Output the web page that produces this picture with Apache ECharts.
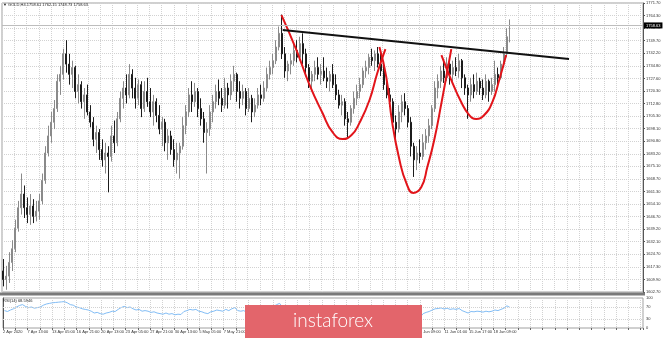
<!DOCTYPE html>
<html>

<head>
    <meta charset="utf-8">
    <script src="https://cdn.jsdelivr.net/npm/echarts@6.0.0/dist/echarts.min.js"></script>
    <style>
        html, body { margin: 0; padding: 0; background: #fff; }
    </style>
</head>

<body>
    <div id="echartsMain" style="width: 665px; height: 338px;"></div>
</body>

</html>

<script type="text/javascript">
    // slots on the time axis (bars + empty space on the right)
    const slotCount = 214

    // right scale labels, bottom to top
    const priceLabels = ['1602.70', '1609.90', '1617.30', '1624.70', '1632.10', '1639.20', '1646.70', '1654.10',
        '1661.30', '1668.70', '1675.10', '1683.20', '1690.80', '1698.10', '1705.30', '1712.80', '1720.30',
        '1727.60', '1734.80', '1742.20', '1749.70', '1756.90', '1764.30', '1771.70']
    const priceMin = 1602.70
    const priceMax = 1771.75

    const dateLabels = ['2 Apr 2020', '7 Apr 13:00', '13 Apr 05:00', '16 Apr 21:00', '20 Apr 13:00', '23 Apr 05:00',
        '27 Apr 21:00', '30 Apr 13:00', '5 May 05:00', '7 May 21:00', '12 May 13:00', '15 May 05:00',
        '19 May 21:00', '22 May 13:00', '27 May 05:00', '29 May 21:00', '3 Jun 13:00', '8 Jun 09:00',
        '11 Jun 01:00', '15 Jun 17:00', '18 Jun 09:00']

    const rsiLabels = [0, 30, 70, 100]

    // [open, close, low, high]
    const bars = [
        [1615, 1610, 1606, 1622], [1610, 1612, 1604, 1618], [1612, 1620, 1608, 1626], [1620, 1628, 1615, 1633],
        [1628, 1640, 1626, 1645], [1640, 1652, 1638, 1656], [1652, 1660, 1648, 1672], [1660, 1652, 1646, 1665],
        [1652, 1648, 1643, 1658], [1648, 1653, 1642, 1660], [1653, 1647, 1643, 1657], [1647, 1650, 1644, 1656],
        [1650, 1656, 1645, 1660], [1656, 1668, 1654, 1672], [1668, 1684, 1666, 1688], [1684, 1694, 1682, 1700],
        [1694, 1702, 1690, 1708], [1702, 1710, 1698, 1715], [1710, 1726, 1708, 1730], [1726, 1730, 1718, 1735],
        [1730, 1742, 1727, 1745], [1742, 1736, 1731, 1750], [1736, 1730, 1724, 1742], [1730, 1734, 1722, 1738],
        [1734, 1720, 1716, 1735], [1720, 1724, 1713, 1730], [1724, 1714, 1710, 1726], [1714, 1718, 1704, 1722],
        [1718, 1708, 1706, 1724], [1708, 1702, 1699, 1712], [1702, 1692, 1688, 1705], [1692, 1696, 1684, 1700],
        [1696, 1686, 1680, 1698], [1686, 1680, 1676, 1692], [1680, 1684, 1672, 1690], [1684, 1682, 1661, 1688],
        [1682, 1694, 1679, 1700], [1694, 1690, 1684, 1703], [1690, 1704, 1688, 1708], [1704, 1716, 1702, 1720],
        [1716, 1722, 1710, 1726], [1722, 1718, 1713, 1730], [1718, 1730, 1716, 1736], [1730, 1722, 1716, 1733],
        [1722, 1716, 1710, 1728], [1716, 1724, 1712, 1727], [1724, 1710, 1705, 1726], [1710, 1720, 1708, 1726],
        [1720, 1714, 1711, 1728], [1714, 1708, 1705, 1722], [1708, 1714, 1700, 1718], [1714, 1706, 1702, 1716],
        [1706, 1698, 1695, 1712], [1698, 1702, 1688, 1705], [1702, 1690, 1685, 1704], [1690, 1694, 1680, 1698],
        [1694, 1686, 1683, 1697], [1686, 1680, 1676, 1692], [1680, 1684, 1672, 1690], [1684, 1688, 1669, 1690],
        [1688, 1700, 1686, 1705], [1700, 1708, 1695, 1712], [1708, 1718, 1705, 1722], [1718, 1714, 1708, 1726],
        [1714, 1720, 1711, 1725], [1720, 1710, 1705, 1722], [1710, 1704, 1700, 1716], [1704, 1696, 1690, 1708],
        [1696, 1698, 1672, 1702], [1698, 1708, 1694, 1712], [1708, 1714, 1702, 1718], [1714, 1720, 1710, 1724],
        [1720, 1716, 1712, 1727], [1716, 1712, 1708, 1722], [1712, 1722, 1710, 1728], [1722, 1718, 1710, 1725],
        [1718, 1726, 1715, 1730], [1726, 1730, 1720, 1735], [1730, 1720, 1714, 1731], [1720, 1716, 1710, 1726],
        [1716, 1720, 1712, 1724], [1720, 1710, 1706, 1722], [1710, 1716, 1708, 1722], [1716, 1708, 1702, 1718],
        [1708, 1712, 1705, 1716], [1712, 1718, 1710, 1722], [1718, 1716, 1712, 1724], [1716, 1722, 1714, 1726],
        [1722, 1730, 1720, 1734], [1730, 1734, 1727, 1738], [1734, 1738, 1730, 1742], [1738, 1746, 1736, 1750],
        [1746, 1754, 1744, 1758], [1754, 1742, 1739, 1765], [1742, 1732, 1728, 1746], [1732, 1736, 1726, 1738],
        [1736, 1738, 1730, 1742], [1738, 1744, 1735, 1748], [1744, 1740, 1737, 1750], [1740, 1748, 1738, 1752],
        [1748, 1742, 1736, 1754], [1742, 1734, 1730, 1745], [1734, 1726, 1722, 1736], [1726, 1730, 1720, 1732],
        [1730, 1734, 1726, 1738], [1734, 1730, 1727, 1740], [1730, 1732, 1724, 1736], [1732, 1728, 1726, 1740],
        [1728, 1726, 1722, 1734], [1726, 1730, 1720, 1732], [1730, 1724, 1722, 1736], [1724, 1718, 1715, 1730],
        [1718, 1712, 1710, 1721], [1712, 1714, 1706, 1718], [1714, 1704, 1700, 1716], [1704, 1702, 1693, 1708],
        [1702, 1710, 1700, 1712], [1710, 1716, 1707, 1720], [1716, 1720, 1712, 1724], [1720, 1724, 1716, 1728],
        [1724, 1732, 1722, 1734], [1732, 1734, 1728, 1738], [1734, 1740, 1730, 1742], [1740, 1738, 1735, 1745],
        [1738, 1742, 1732, 1744], [1742, 1736, 1734, 1746], [1736, 1732, 1729, 1744], [1732, 1724, 1721, 1735],
        [1724, 1718, 1716, 1728], [1718, 1714, 1711, 1722], [1714, 1702, 1700, 1716], [1702, 1698, 1692, 1706],
        [1698, 1708, 1696, 1712], [1708, 1714, 1702, 1718], [1714, 1710, 1706, 1719], [1710, 1702, 1699, 1712],
        [1702, 1688, 1682, 1705], [1688, 1680, 1670, 1690], [1680, 1684, 1674, 1688], [1684, 1682, 1678, 1692],
        [1682, 1690, 1680, 1695], [1690, 1694, 1686, 1698], [1694, 1700, 1690, 1704], [1700, 1710, 1698, 1712],
        [1710, 1722, 1708, 1726], [1722, 1726, 1716, 1730], [1726, 1732, 1722, 1735], [1732, 1728, 1725, 1738],
        [1728, 1736, 1726, 1740], [1736, 1730, 1724, 1737], [1730, 1734, 1726, 1738], [1734, 1732, 1729, 1740],
        [1732, 1738, 1728, 1742], [1738, 1728, 1722, 1739], [1728, 1722, 1718, 1730], [1722, 1718, 1704, 1724],
        [1718, 1724, 1714, 1728], [1724, 1720, 1716, 1730], [1720, 1726, 1718, 1731], [1726, 1722, 1718, 1728],
        [1722, 1718, 1715, 1727], [1718, 1726, 1716, 1730], [1726, 1720, 1714, 1727], [1720, 1724, 1718, 1728],
        [1724, 1730, 1720, 1738], [1730, 1728, 1724, 1734], [1728, 1736, 1727, 1738], [1736, 1742, 1734, 1746],
        [1742, 1752, 1740, 1757], [1758.61, 1758.63, 1748.73, 1762.15]
    ]
    const lastPrice = 1758.63

    const rsi = [
        58, 55, 60, 64, 70, 75, 78, 72, 68, 70,
        66, 68, 70, 76, 80, 82, 84, 85, 86, 87,
        88, 84, 78, 76, 70, 68, 64, 62, 60, 56,
        50, 52, 48, 46, 50, 52, 56, 55, 62, 68,
        72, 68, 70, 64, 60, 62, 56, 58, 56, 52,
        54, 50, 48, 46, 50, 46, 48, 44, 46, 45,
        55, 58, 62, 60, 62, 56, 54, 50, 48, 54,
        56, 60, 58, 56, 62, 58, 64, 68, 58, 56,
        58, 52, 56, 50, 54, 58, 58, 62, 66, 70,
        72, 78, 82, 68, 58, 60, 62, 66, 64, 68,
        64, 58, 52, 55, 58, 56, 57, 55, 53, 55,
        52, 48, 44, 45, 40, 38, 45, 50, 54, 57,
        62, 64, 67, 65, 66, 62, 58, 52, 48, 45,
        40, 38, 44, 48, 46, 42, 35, 30, 34, 36,
        48, 52, 55, 60, 64, 65, 67, 63, 66, 62,
        64, 62, 65, 58, 54, 50, 55, 54, 56, 55,
        53, 56, 54, 56, 60, 58, 62, 66, 74, 68.59
    ]

    // drawn figures, [slot, price]
    const neckLine = [[93.7, 1755.9], [189.3, 1739.0]]
    const leftCup = [[93.3, 1764.7], [98.3, 1744.2], [102.7, 1723.7], [107, 1707.4], [110.3, 1696.3],
        [113.7, 1692.2], [116.7, 1694.5], [119.3, 1701.5], [122.7, 1715.0], [125.3, 1730.8], [128, 1744.8]]
    const headCup = [[126, 1746.0], [128.3, 1728.4], [130.3, 1701.5], [132.7, 1679.9], [135, 1666.4],
        [137.3, 1660.6], [140, 1664.1], [142, 1675.8], [144.3, 1691.6], [146.7, 1713.2], [148.3, 1728.4], [150, 1744.8]]
    const rightCup = [[146.7, 1741.3], [150, 1726.7], [153.3, 1713.8], [156, 1706.2], [158.3, 1703.9],
        [161, 1706.2], [163.7, 1713.8], [166, 1726.7], [168.3, 1741.3]]

    const slots = []
    for (let i = 0; i < slotCount; i++) slots.push(i)

    const gridDots = { color: '#d2d2d2', width: 1, type: [1, 1] }
    const tiny = { fontSize: 4, color: '#333', fontFamily: 'Liberation Sans' }

    function cup(data) {
        return {
            type: 'line', xAxisIndex: 1, yAxisIndex: 0, data: data, smooth: true,
            showSymbol: false, z: 5, lineStyle: { color: '#e2141a', width: 2 }
        }
    }

    let myChart = echarts.init(document.getElementById('echartsMain'), null, { renderer: 'canvas' })

    let option = {
        animation: false,
        backgroundColor: '#fff',
        grid: [
            { left: 2, right: 22, top: 3, height: 289, show: true, borderColor: '#a0a0a0', borderWidth: 1 },
            { left: 2, right: 22, top: 298, height: 30, show: true, borderColor: '#a0a0a0', borderWidth: 1 }
        ],
        xAxis: [
            { type: 'category', gridIndex: 0, position: 'top', data: slots, show: false },
            {
                type: 'value', gridIndex: 0, position: 'bottom', min: 0, max: slotCount, interval: 4.1,
                axisLine: { show: false }, axisTick: { show: false }, axisLabel: { show: false },
                splitLine: { show: true, lineStyle: gridDots }
            },
            { type: 'category', gridIndex: 1, position: 'top', data: slots, show: false },
            {
                type: 'value', gridIndex: 1, position: 'bottom', min: 0, max: slotCount, interval: 4.1,
                axisLine: { show: false },
                axisTick: { show: true, length: 2, lineStyle: { color: '#666' } },
                axisLabel: Object.assign({
                    margin: 2, align: 'left',
                    formatter: v => {
                        let k = Math.round(v / 4.1)
                        return k % 2 === 0 && dateLabels[k / 2] ? dateLabels[k / 2] : ''
                    }
                }, tiny),
                splitLine: { show: true, lineStyle: gridDots }
            }
        ],
        yAxis: [
            { type: 'value', gridIndex: 0, position: 'left', min: priceMin, max: priceMax, show: false },
            {
                type: 'value', gridIndex: 0, position: 'right', min: 0, max: priceLabels.length - 1, interval: 1,
                axisLine: { show: true, lineStyle: { color: '#555' } },
                axisTick: { show: true, length: 2, lineStyle: { color: '#555' } },
                axisLabel: Object.assign({ margin: 3, formatter: v => priceLabels[v] || '' }, tiny),
                splitLine: { show: true, lineStyle: gridDots }
            },
            {
                type: 'value', gridIndex: 1, position: 'right', min: 0, max: 100, interval: 10,
                axisLine: { show: true, lineStyle: { color: '#555' } },
                axisTick: { show: false },
                axisLabel: Object.assign({ margin: 3, formatter: v => rsiLabels.includes(v) ? String(v) : '' }, tiny),
                splitLine: { show: false }
            }
        ],
        series: [
            {
                name: 'GOLD', type: 'candlestick', xAxisIndex: 0, yAxisIndex: 0, data: bars,
                barWidth: 1.5, z: 3,
                itemStyle: { color: '#8a8a8a', color0: '#1c1c1c', borderColor: '#8a8a8a', borderColor0: '#1c1c1c', borderWidth: 1 },
                markLine: {
                    symbol: 'none', silent: true, z: 10,
                    lineStyle: { color: '#bdbdbd', type: 'solid', width: 1 },
                    label: {
                        position: 'end', distance: 1, formatter: lastPrice.toFixed(2),
                        backgroundColor: '#000', color: '#fff', fontSize: 4, padding: [1, 2],
                        fontFamily: 'Liberation Sans'
                    },
                    data: [{ yAxis: lastPrice }]
                }
            },
            cup(leftCup),
            cup(headCup),
            cup(rightCup),
            {
                type: 'line', xAxisIndex: 1, yAxisIndex: 0, data: neckLine, showSymbol: false, z: 6,
                lineStyle: { color: '#111', width: 2 }
            },
            {
                name: 'RSI', type: 'line', xAxisIndex: 2, yAxisIndex: 2, data: rsi, showSymbol: false,
                lineStyle: { color: '#82bdf5', width: 1 },
                markLine: {
                    symbol: 'none', silent: true, label: { show: false },
                    lineStyle: gridDots,
                    data: [{ yAxis: 30 }, { yAxis: 70 }]
                }
            }
        ],
        graphic: [
            { type: 'rect', shape: { x: 0, y: 292.5, width: 645, height: 3 }, style: { fill: '#7a7a7a' }, z: 50 },
            {
                type: 'text', x: 3, y: 3,
                style: { text: '\u25BC GOLD,H4 1758.61 1762.15 1748.73 1758.63', fontSize: 4, fill: '#222', fontFamily: 'Liberation Sans' },
                z: 50
            },
            {
                type: 'text', x: 3, y: 299,
                style: { text: 'RSI(14) 68.5946', fontSize: 4, fill: '#222', fontFamily: 'Liberation Sans' },
                z: 50
            },
            { type: 'rect', shape: { x: 245, y: 305, width: 177, height: 33 }, style: { fill: '#e3656b' }, z: 100 },
            {
                type: 'text', x: 333, y: 321,
                style: {
                    text: 'instaforex', fontSize: 19, fill: '#fff', fontFamily: 'Lato', fontWeight: 300,
                    align: 'center', verticalAlign: 'middle'
                },
                z: 101
            }
        ]
    }
    myChart.setOption(option)
</script>
